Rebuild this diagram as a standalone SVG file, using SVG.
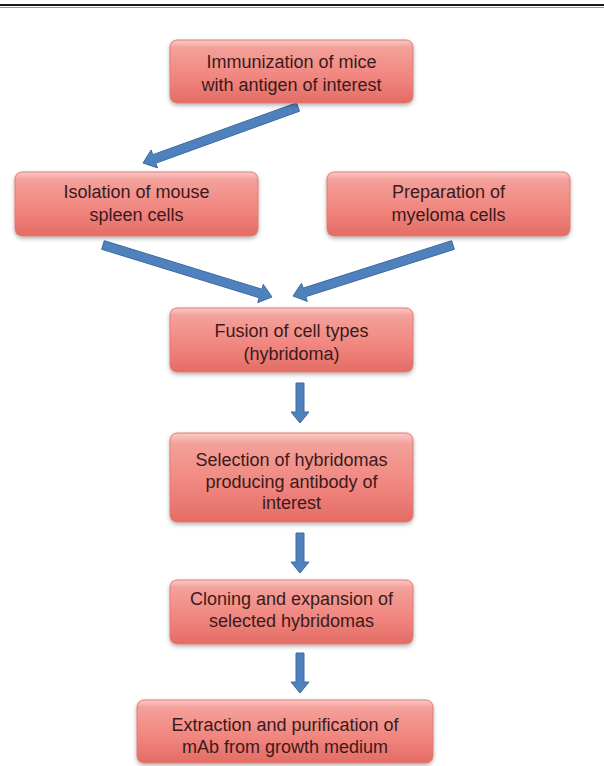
<svg xmlns="http://www.w3.org/2000/svg" width="604" height="766" viewBox="0 0 604 766">
<defs>
<linearGradient id="boxGrad" x1="0" y1="0" x2="0" y2="1">
<stop offset="0" stop-color="#f9cbc6"/>
<stop offset="0.12" stop-color="#f4a09a"/>
<stop offset="0.6" stop-color="#f0857e"/>
<stop offset="1" stop-color="#e46c65"/>
</linearGradient>
<filter id="shadow" x="-10%" y="-10%" width="120%" height="130%">
<feDropShadow dx="0" dy="2" stdDeviation="2" flood-color="#000" flood-opacity="0.3"/>
</filter>
</defs>
<style>
.box{fill:url(#boxGrad);stroke:#dd7a72;stroke-width:1;filter:url(#shadow)}
.lbl{font-family:"Liberation Sans",Arial,sans-serif;font-size:18px;fill:#3a1b1b;text-anchor:middle}
.arr{fill:#4f81bd;stroke:#3b6aa3;stroke-width:1;stroke-linejoin:round}
</style>
<rect width="604" height="766" fill="#ffffff"/>
<line x1="0" y1="5" x2="604" y2="5" stroke="#1a1a1a" stroke-width="2"/>
<line x1="0" y1="7.5" x2="604" y2="7.5" stroke="#9a9a9a" stroke-width="1"/>

<g id="connectors">
<polygon class="arr" points="296.5,102.8 152.8,154.7 151.1,150.0 143,163 157.5,167.9 155.8,163.2 299.5,111.2"/>
<polygon class="arr" points="104.3,240.7 261.9,289.2 263.3,284.4 272,297 257.7,302.6 259.2,297.8 101.7,249.3"/>
<polygon class="arr" points="451.6,240.7 303.1,288.1 301.5,283.3 293,296 307.3,301.4 305.8,296.7 454.4,249.3"/>
<polygon class="arr" points="296,383 304,383 304,412 309,412 300,423 291,412 296,412"/>
<polygon class="arr" points="296,533 304,533 304,562 309,562 300,573 291,562 296,562"/>
<polygon class="arr" points="296,653 304,653 304,682 309,682 300,693 291,682 296,682"/>
</g>

<g id="immunization">
<rect class="box" x="170" y="40" width="243" height="63" rx="7"/>
<text class="lbl" x="291.5" y="68">Immunization of mice</text>
<text class="lbl" x="291.5" y="91">with antigen of interest</text>
</g>
<g id="isolation">
<rect class="box" x="15" y="172" width="243" height="64" rx="7"/>
<text class="lbl" x="136.5" y="198">Isolation of mouse</text>
<text class="lbl" x="136.5" y="221">spleen cells</text>
</g>
<g id="preparation">
<rect class="box" x="327" y="172" width="243" height="64" rx="7"/>
<text class="lbl" x="448.5" y="198">Preparation of</text>
<text class="lbl" x="448.5" y="221">myeloma cells</text>
</g>
<g id="fusion">
<rect class="box" x="170" y="308" width="243" height="64" rx="7"/>
<text class="lbl" x="291.5" y="337">Fusion of cell types</text>
<text class="lbl" x="291.5" y="360">(hybridoma)</text>
</g>
<g id="selection">
<rect class="box" x="170" y="433" width="243" height="89" rx="7"/>
<text class="lbl" x="291.5" y="466">Selection of hybridomas</text>
<text class="lbl" x="291.5" y="488">producing antibody of</text>
<text class="lbl" x="291.5" y="509">interest</text>
</g>
<g id="cloning">
<rect class="box" x="170" y="580" width="243" height="64" rx="7"/>
<text class="lbl" x="291.5" y="605">Cloning and expansion of</text>
<text class="lbl" x="291.5" y="627">selected hybridomas</text>
</g>
<g id="extraction">
<rect class="box" x="137" y="700" width="296" height="63" rx="7"/>
<text class="lbl" x="285" y="731">Extraction and purification of</text>
<text class="lbl" x="285" y="753">mAb from growth medium</text>
</g>
</svg>
